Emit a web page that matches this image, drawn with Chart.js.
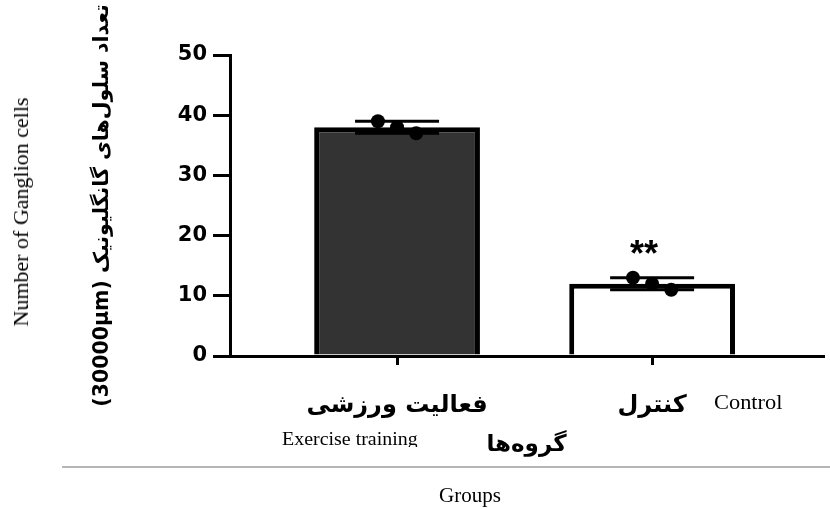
<!DOCTYPE html>
<html>
<head>
<meta charset="utf-8">
<script src="https://cdn.jsdelivr.net/npm/chart.js@4.4.1/dist/chart.umd.min.js"></script>
<style>
  html, body { margin: 0; padding: 0; background: #fff; }
  #wrap { position: relative; width: 830px; height: 509px; overflow: hidden; }
  canvas { position: absolute; left: 0; top: 0; }
  .t { position: absolute; font-family: "Liberation Serif", "Times New Roman", serif; color: #000; white-space: nowrap; }
</style>
</head>
<body>
<div id="wrap">
  <canvas id="c" width="830" height="509"></canvas>
  <div class="t" id="ylab2" style="left:21px; top:212px; font-size:22px; transform: translate(-50%,-50%) rotate(-90deg);">Number of Ganglion cells</div>
  <div class="t" style="left:714px; top:391px; font-size:20px; transform-origin:left top; transform: scaleX(1.12);">Control</div>
  <div class="t" style="left:282px; top:428px; height:19px; overflow:hidden; font-size:19px; line-height:22px; transform-origin:left top; transform: scaleX(1.05);">Exercise training</div>
  <div style="position:absolute; left:62px; top:466px; width:768px; height:2px; background:#b5b5b5;"></div>
  <div class="t" style="left:470px; top:495px; font-size:21px; transform: translate(-50%,-50%);">Groups</div>
</div>
<script>
const categories = ['فعالیت ورزشی', 'کنترل'];
const barMeans = [38, 12];
const barSD = [1, 1];
const pointsExercise = [39, 38, 37];
const pointsControl = [13, 12, 11];
const significance = ['', '**'];
const yTicks = [0, 10, 20, 30, 40, 50];
const yTitle = '(30000µm) تعداد سلول‌های گانگلیونیک';
const xTitle = 'گروه‌ها';

const groupPoints = [pointsExercise, pointsControl];
const JITTER = 0.075;

const barData = barMeans.map((v, i) => ({ x: i, y: v }));
const scatterData = [];
groupPoints.forEach((arr, i) => arr.forEach((v, j) => scatterData.push({ x: i + (j - (arr.length - 1) / 2) * JITTER, y: v })));

const errPlugin = {
  id: 'errbars',
  afterDatasetsDraw(chart) {
    const { ctx, scales: { x, y } } = chart;
    ctx.save();
    ctx.strokeStyle = '#000';
    ctx.lineWidth = 3;
    barMeans.forEach((m, i) => {
      const cx = x.getPixelForValue(i);
      const yt = y.getPixelForValue(m + barSD[i]);
      const yb = y.getPixelForValue(m - barSD[i]);
      ctx.beginPath();
      ctx.moveTo(cx - 42, yt); ctx.lineTo(cx + 42, yt);
      ctx.moveTo(cx - 42, yb); ctx.lineTo(cx + 42, yb);
      ctx.moveTo(cx, yt); ctx.lineTo(cx, yb);
      ctx.stroke();
      if (significance[i]) {
        ctx.fillStyle = '#000';
        ctx.font = 'bold 36px "Liberation Sans", Arial, sans-serif';
        ctx.textAlign = 'center';
        ctx.textBaseline = 'middle';
        ctx.fillText(significance[i], cx - 8, yt - 22);
      }
    });
    ctx.restore();
  }
};

new Chart(document.getElementById('c'), {
  type: 'bar',
  data: {
    datasets: [
      {
        type: 'scatter',
        data: scatterData,
        backgroundColor: '#000',
        borderColor: '#000',
        pointRadius: 7,
        pointHoverRadius: 7,
        borderWidth: 0,
        order: 0
      },
      {
        type: 'bar',
        data: barData,
        backgroundColor: ['#333333', '#ffffff'],
        borderColor: '#000',
        borderWidth: 5,
        borderSkipped: 'start',
        barPercentage: 0.65,
        categoryPercentage: 1,
        order: 1
      }
    ]
  },
  options: {
    responsive: false,
    animation: false,
    events: [],
    layout: { padding: { top: 55, right: 7, left: 0, bottom: 0 } },
    plugins: { legend: { display: false }, tooltip: { enabled: false } },
    scales: {
      x: {
        type: 'linear',
        min: -0.655,
        max: 1.67,
        offset: false,
        afterBuildTicks(scale) { scale.ticks = categories.map((c, i) => ({ value: i })); },
        afterFit(scale) { scale.height = 153; },
        ticks: {
          autoSkip: false,
          maxRotation: 0,
          color: '#000',
          padding: 26,
          font: { family: 'DejaVu Sans', weight: 'bold', size: 24 },
          callback: (v) => categories[v]
        },
        grid: { display: true, offset: false, drawOnChartArea: false, drawTicks: true, tickLength: 9, color: '#000', lineWidth: 3 },
        border: { display: true, color: '#000', width: 3 },
        title: {
          display: true,
          text: xTitle,
          color: '#000',
          font: { family: 'DejaVu Sans', weight: 'bold', size: 23 },
          padding: { top: 0, bottom: 50 }
        }
      },
      y: {
        min: 0,
        max: 50,
        afterBuildTicks(scale) { scale.ticks = yTicks.map(v => ({ value: v })); },
        afterFit(scale) { scale.width = 230; },
        ticks: {
          color: '#000',
          padding: 6,
          font: { family: 'DejaVu Sans', weight: 'bold', size: 21 }
        },
        grid: { display: true, drawOnChartArea: false, drawTicks: true, tickLength: 17, color: '#000', lineWidth: 3 },
        border: { display: true, color: '#000', width: 3 },
        title: {
          display: true,
          text: yTitle,
          color: '#000',
          font: { family: 'DejaVu Sans', weight: 'bold', size: 20.5 },
          padding: { top: 90, bottom: 0 }
        }
      }
    }
  },
  plugins: [errPlugin]
});
</script>
</body>
</html>
